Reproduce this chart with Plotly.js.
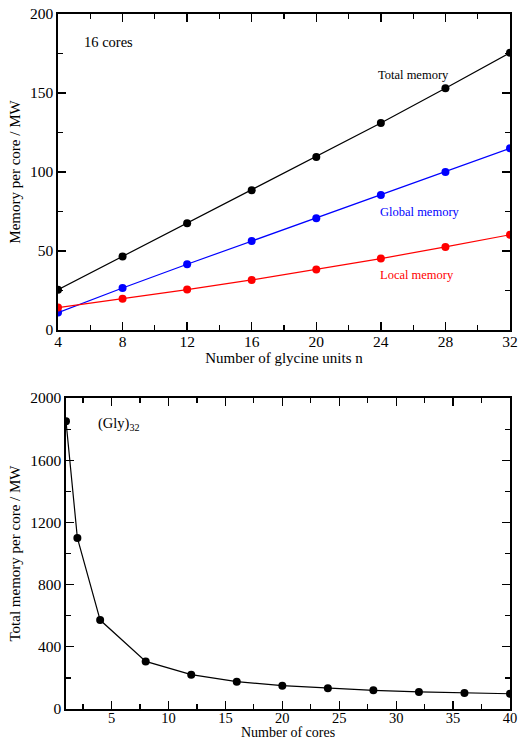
<!DOCTYPE html>
<html>
<head>
<meta charset="utf-8">
<script src="https://cdn.plot.ly/plotly-3.0.1.min.js"></script>
<style>html,body{margin:0;padding:0;background:#fff;}#chart{width:519px;height:740px;}</style>
</head>
<body>
<div id="chart"></div>
<script>
// Top panel: memory per core vs number of glycine units (16 cores)
const glycineUnits = [4, 8, 12, 16, 20, 24, 28, 32];
const totalMemory  = [25.5, 46.5, 67.5, 88.5, 109.5, 131, 153, 175.5];
const globalMemory = [11, 26.6, 41.6, 56.3, 70.8, 85.5, 100, 115];
const localMemory  = [14.2, 19.7, 25.6, 31.7, 38.3, 45.2, 52.6, 60.3];

// Bottom panel: total memory per core vs number of cores, (Gly)32
const cores = [1, 2, 4, 8, 12, 16, 20, 24, 28, 32, 36, 40];
const totalMemoryPerCore = [1850, 1100, 572, 306, 221, 176, 150, 133, 120, 110, 103, 98];

const FONT = "Liberation Serif, Times New Roman, serif";

function line(x, y, color, xa, ya) {
  return {
    x: x, y: y, type: 'scatter', mode: 'lines+markers',
    xaxis: xa, yaxis: ya,
    line: {color: color, width: 1.2},
    marker: {color: color, size: 8, symbol: 'circle'},
    showlegend: false, hoverinfo: 'skip'
  };
}

const traces = [
  line(glycineUnits, totalMemory, '#000000', 'x', 'y'),
  line(glycineUnits, globalMemory, '#0000ff', 'x', 'y'),
  line(glycineUnits, localMemory, '#ff0000', 'x', 'y'),
  line(cores, totalMemoryPerCore, '#000000', 'x2', 'y2')
];

function axis(extra) {
  return Object.assign({
    showline: true, linecolor: '#000', linewidth: 1.6, mirror: 'ticks',
    ticks: 'inside', ticklen: 8, tickwidth: 1.3, tickcolor: '#000',
    showgrid: false, zeroline: false, fixedrange: true,
    tickfont: {family: FONT, size: 15.5, color: '#000'}
  }, extra);
}

const minorStyle = {ticks: 'inside', ticklen: 5, tickwidth: 1.2, tickcolor: '#000'};

const layout = {
  width: 519, height: 740,
  margin: {l: 0, r: 0, t: 0, b: 0},
  paper_bgcolor: '#fff', plot_bgcolor: '#fff',
  font: {family: FONT, color: '#000'},
  xaxis: axis({
    domain: [58/519, 510/519], anchor: 'y', range: [4, 32],
    tickmode: 'linear', tick0: 4, dtick: 4, ticklabelstandoff: -3,
    minor: Object.assign({dtick: 2, tick0: 4}, minorStyle),
    title: {text: 'Number of glycine units n', standoff: 0, font: {family: FONT, size: 15, color: '#000'}}
  }),
  yaxis: axis({
    domain: [1 - 330/740, 1 - 14/740], anchor: 'x', range: [0, 200],
    tickmode: 'linear', tick0: 0, dtick: 50,
    minor: Object.assign({dtick: 25, tick0: 0}, minorStyle),
    title: {text: 'Memory per core / MW', standoff: 6, font: {family: FONT, size: 15, color: '#000'}}
  }),
  xaxis2: axis({
    domain: [66/519, 510/519], anchor: 'y2', range: [1, 40],
    tickmode: 'linear', tick0: 0, dtick: 5, ticklabelstandoff: -5,
    tickfont: {family: FONT, size: 14.5, color: '#000'},
    minor: Object.assign({dtick: 2.5, tick0: 0}, minorStyle)
  }),
  yaxis2: axis({
    domain: [1 - 709/740, 1 - 398/740], anchor: 'x2', range: [0, 2000],
    tickmode: 'linear', tick0: 0, dtick: 400,
    minor: Object.assign({dtick: 200, tick0: 0}, minorStyle),
    title: {text: 'Total memory per core / MW', standoff: 6, font: {family: FONT, size: 15, color: '#000'}}
  }),
  annotations: [
    {xref: 'x', yref: 'y', x: 5.5, y: 182, text: '16 cores', showarrow: false, xanchor: 'left', yanchor: 'middle', font: {family: FONT, size: 14.5, color: '#000'}},
    {xref: 'x', yref: 'y', x: 23.7, y: 161.5, text: 'Total memory', showarrow: false, xanchor: 'left', yanchor: 'middle', font: {family: FONT, size: 12.5, color: '#000'}},
    {xref: 'x', yref: 'y', x: 23.8, y: 75, text: 'Global memory', showarrow: false, xanchor: 'left', yanchor: 'middle', font: {family: FONT, size: 12.5, color: '#0000ff'}},
    {xref: 'x', yref: 'y', x: 23.8, y: 35, text: 'Local memory', showarrow: false, xanchor: 'left', yanchor: 'middle', font: {family: FONT, size: 12.5, color: '#ff0000'}},
    {xref: 'x2', yref: 'y2', x: 3.6, y: 1830, text: '(Gly)<sub>32</sub>', showarrow: false, xanchor: 'left', yanchor: 'middle', font: {family: FONT, size: 14.5, color: '#000'}},
    {xref: 'x2 domain', yref: 'paper', x: 0.5, y: 0, yshift: -1, text: 'Number of cores', showarrow: false, xanchor: 'center', yanchor: 'bottom', borderpad: 0, font: {family: FONT, size: 14, color: '#000'}}
  ]
};

Plotly.newPlot('chart', traces, layout, {staticPlot: true, displayModeBar: false});
</script>
</body>
</html>
